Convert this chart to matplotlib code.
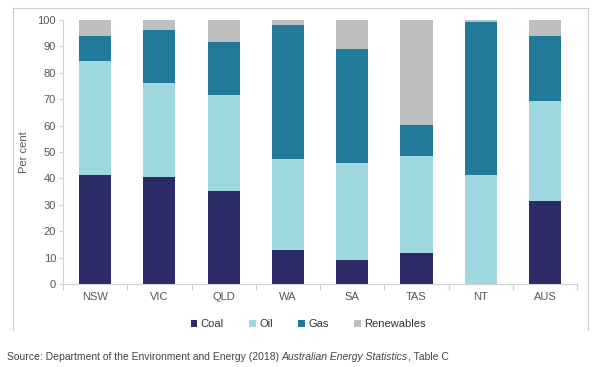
import matplotlib
matplotlib.use('Agg')
import matplotlib.pyplot as plt
from matplotlib.lines import Line2D
import numpy as np

plt.rcParams['font.family'] = ['Liberation Sans', 'DejaVu Sans']

# Share of energy consumption by fuel, per state (per cent)
states = ['NSW', 'VIC', 'QLD', 'WA', 'SA', 'TAS', 'NT', 'AUS']
coal = [41.4, 40.5, 35.4, 12.8, 9.2, 11.9, 0.0, 31.4]
oil = [43.1, 35.6, 36.3, 34.7, 36.8, 36.5, 41.2, 37.8]
gas = [9.3, 20.0, 20.0, 50.4, 43.0, 11.8, 57.9, 24.6]
renewables = [6.2, 3.9, 8.3, 2.1, 11.0, 39.8, 0.9, 6.2]

series = [('Coal', coal, '#2b2a66'),
          ('Oil', oil, '#a0d8e0'),
          ('Gas', gas, '#227a9b'),
          ('Renewables', renewables, '#bdbec0')]

fig = plt.figure(figsize=(6.0, 3.67), dpi=100)
ax = fig.add_axes([0.105, 0.226, 0.857, 0.72])

x = np.arange(len(states))
bottom = np.zeros(len(states))
for name, vals, col in series:
    ax.bar(x, vals, 0.5, bottom=bottom, color=col, label=name, zorder=2)
    bottom += np.array(vals)

ax.set_xlim(-0.5, len(states) - 0.5)
ax.set_ylim(0, 100)
ax.set_yticks(range(0, 101, 10))
ax.set_xticks(x)
ax.set_xticklabels(states)
ax.set_xticks(np.arange(-0.5, len(states), 1), minor=True)
ax.tick_params(axis='x', which='major', length=0, pad=6, labelsize=8, labelcolor='#555555')
ax.tick_params(axis='x', which='minor', length=4, color='#d0d0d0', width=0.8)
ax.tick_params(axis='y', length=3, color='#d0d0d0', width=0.8, labelsize=8,
               labelcolor='#555555', pad=2)
ax.set_ylabel('Per cent', fontsize=8, color='#555555', labelpad=6)

for side in ['top', 'right']:
    ax.spines[side].set_visible(False)
for side in ['left', 'bottom']:
    ax.spines[side].set_color('#d0d0d0')
    ax.spines[side].set_linewidth(0.8)

ax.legend(loc='upper center', bbox_to_anchor=(0.477, -0.095), ncol=4, frameon=False,
          fontsize=8, handlelength=0.6, handleheight=0.6, handletextpad=0.3,
          columnspacing=2.3, labelcolor='#333333')

# light frame around the chart area
frame = dict(color='#cccccc', lw=0.8, transform=fig.transFigure)
fig.add_artist(Line2D([0.022, 0.022], [0.10, 0.978], **frame))
fig.add_artist(Line2D([0.022, 0.98], [0.978, 0.978], **frame))
fig.add_artist(Line2D([0.98, 0.98], [0.10, 0.978], **frame))

# source line: regular / italic / regular pieces placed one after another
pieces = [('Source: Department of the Environment and Energy (2018) ', 'normal'),
          ('Australian Energy Statistics', 'italic'),
          (', Table C', 'normal')]
renderer = fig.canvas.get_renderer()
xpos = 7
for txt, style in pieces:
    t = fig.text(xpos / 600, 0.02, txt, fontsize=7.45, style=style,
                 color='#444444', va='baseline')
    xpos = t.get_window_extent(renderer).x1

plt.savefig('out.png', dpi=100)
plt.close()
